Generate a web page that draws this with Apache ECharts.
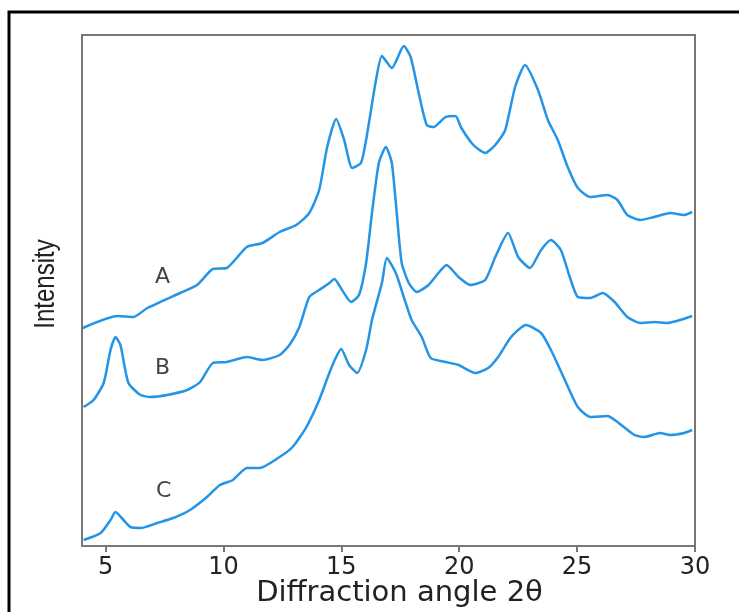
<!DOCTYPE html>
<html>
<head>
<meta charset="utf-8">
<script src="https://cdn.jsdelivr.net/npm/echarts@6/dist/echarts.min.js"></script>
<style>
  html, body { margin: 0; padding: 0; background: #fff; }
  #main { width: 739px; height: 612px; }
</style>
</head>
<body>
<div id="main"></div>
<script>
// tick values on the 2θ axis
var xTicks = [5, 10, 15, 20, 25, 30];

// diffraction patterns, [2θ, intensity] (arbitrary units, offsets included)
var curveA = [
    [4.03, 218], [5.51, 230], [6.18, 229], [6.77, 238], [8.16, 253], [8.88, 261],
    [9.55, 277], [10.14, 278], [10.99, 299], [11.66, 303], [12.38, 314], [13.09, 321],
    [13.64, 333], [14.06, 356], [14.40, 399], [14.78, 427], [15.12, 406], [15.46, 378],
    [15.83, 383], [16.05, 406], [16.47, 466], [16.72, 490], [17.14, 478], [17.65, 500],
    [17.94, 489], [18.28, 453], [18.62, 421], [18.91, 419], [19.42, 429], [19.84, 430],
    [20.09, 418], [20.60, 401], [21.10, 393], [21.53, 401], [21.95, 416], [22.37, 459],
    [22.79, 481], [23.34, 456], [23.76, 426], [24.18, 406], [24.60, 379], [25.03, 358],
    [25.57, 349], [26.29, 351], [26.71, 346], [27.13, 331], [27.68, 326], [28.27, 329],
    [28.95, 333], [29.54, 331], [29.88, 334]
];
var curveB = [
    [4.07, 139], [4.49, 146], [4.92, 163], [5.21, 196], [5.42, 209], [5.63, 201],
    [5.97, 163], [6.48, 151], [6.90, 149], [7.61, 151], [8.46, 156], [9.01, 164],
    [9.55, 183], [10.14, 184], [10.99, 189], [11.66, 186], [12.38, 191], [12.80, 201],
    [13.22, 219], [13.64, 249], [14.06, 256], [14.49, 263], [14.70, 267], [15.03, 256],
    [15.41, 244], [15.75, 251], [16.05, 283], [16.30, 333], [16.59, 383], [16.89, 399],
    [17.14, 383], [17.35, 333], [17.56, 283], [17.86, 263], [18.20, 254], [18.70, 261],
    [19.12, 273], [19.46, 281], [19.97, 269], [20.47, 261], [21.10, 266], [21.53, 289],
    [22.07, 313], [22.50, 289], [23.00, 278], [23.47, 296], [23.89, 306], [24.31, 296],
    [24.69, 269], [25.03, 249], [25.57, 248], [26.08, 253], [26.59, 244], [27.13, 229],
    [27.68, 223], [28.27, 224], [28.82, 223], [29.37, 226], [29.88, 230]
];
var curveC = [
    [4.07, 6], [4.79, 13], [5.21, 26], [5.42, 34], [5.76, 26], [6.05, 19],
    [6.48, 18], [7.19, 23], [7.87, 28], [8.58, 36], [9.30, 49], [9.85, 61],
    [10.40, 66], [10.99, 78], [11.53, 78], [12.38, 89], [12.93, 99], [13.52, 119],
    [14.06, 146], [14.49, 173], [14.78, 189], [14.99, 197], [15.33, 181], [15.67, 173],
    [16.05, 196], [16.30, 226], [16.72, 263], [16.93, 288], [17.31, 273], [17.73, 243],
    [17.98, 226], [18.41, 209], [18.79, 188], [19.42, 184], [19.97, 181], [20.68, 173],
    [21.23, 178], [21.65, 189], [22.20, 209], [22.83, 221], [23.47, 213], [23.89, 196],
    [24.48, 166], [25.03, 139], [25.57, 129], [26.29, 130], [26.71, 124], [27.43, 111],
    [27.85, 109], [28.52, 113], [28.95, 111], [29.54, 113], [29.88, 116]
];

var lineColor = '#2394e6';
var textColor = '#222';

var myChart = echarts.init(document.getElementById('main'));

function lineSeries(name, data) {
    return {
        name: name,
        type: 'line',
        data: data,
        smooth: 0.2,
        showSymbol: false,
        lineStyle: { color: lineColor, width: 2.5 }
    };
}

var option = {
    animation: false,
    backgroundColor: '#fff',
    grid: {
        left: 82,
        right: 44,
        top: 35,
        bottom: 66,
        outerBoundsMode: 'none',
        containLabel: false,
        show: true,
        borderColor: '#777',
        borderWidth: 2
    },
    xAxis: {
        type: 'value',
        min: 4,
        max: 30,
        name: 'Diffraction angle 2θ',
        nameLocation: 'middle',
        nameGap: 33,
        nameMoveOverlap: false,
        nameTextStyle: { fontFamily: 'DejaVu Sans', fontSize: 29, color: textColor, padding: [0, 0, 0, 22] },
        axisLine: { show: true, lineStyle: { color: '#777', width: 2 } },
        axisTick: { show: true, inside: false, length: 6, customValues: xTicks, lineStyle: { color: '#777', width: 2 } },
        axisLabel: { customValues: xTicks, fontFamily: 'DejaVu Sans', fontSize: 24, color: textColor, margin: 10 },
        splitLine: { show: false }
    },
    yAxis: {
        type: 'value',
        min: 0,
        max: 511,
        axisLine: { show: true, lineStyle: { color: '#777', width: 2 } },
        axisTick: { show: false },
        axisLabel: { show: false },
        splitLine: { show: false }
    },
    graphic: [
        {
            type: 'rect',
            shape: { x: 9, y: 12, width: 800, height: 700 },
            style: { fill: 'none', stroke: '#000', lineWidth: 3 },
            silent: true
        },
        {
            type: 'text',
            x: 46,
            y: 284,
            rotation: Math.PI / 2,
            scaleX: 0.8,
            style: {
                text: 'Intensity',
                font: '30px Liberation Sans',
                fill: textColor,
                align: 'center',
                verticalAlign: 'middle'
            }
        },
        { type: 'text', left: 155, top: 266, style: { text: 'A', font: '22px DejaVu Sans', fill: '#444' } },
        { type: 'text', left: 155, top: 357, style: { text: 'B', font: '22px DejaVu Sans', fill: '#444' } },
        { type: 'text', left: 156, top: 480, style: { text: 'C', font: '22px DejaVu Sans', fill: '#444' } }
    ],
    series: [
        lineSeries('A', curveA),
        lineSeries('B', curveB),
        lineSeries('C', curveC)
    ]
};

myChart.setOption(option);
</script>
</body>
</html>
